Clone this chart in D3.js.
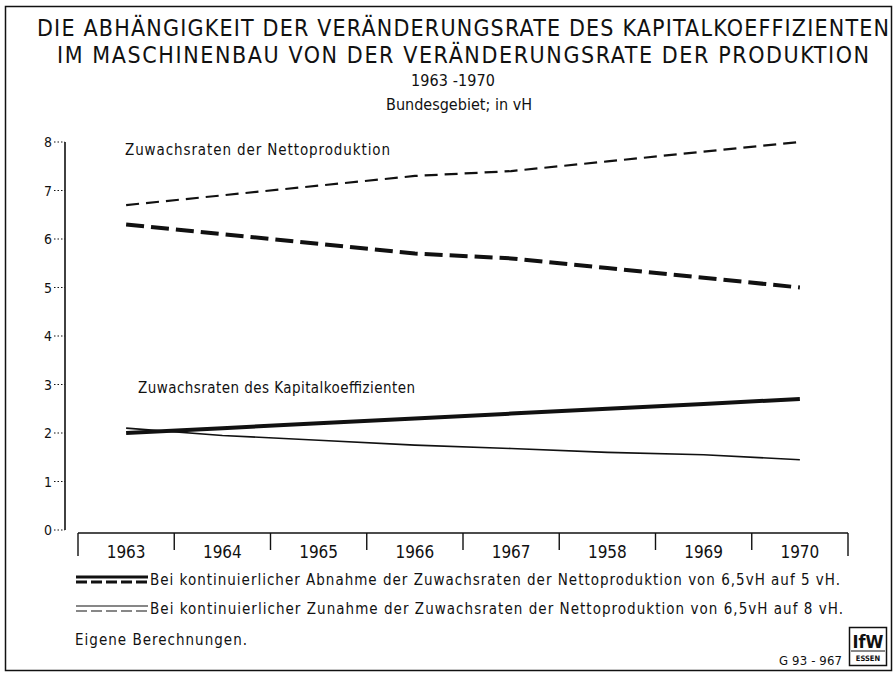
<!DOCTYPE html>
<html>
<head>
<meta charset="utf-8">
<script src="https://cdn.jsdelivr.net/npm/d3@7"></script>
<style>
  body { margin: 0; background: #fff; }
  svg { display: block; }
  text { font-family: "DejaVu Sans Condensed", "DejaVu Sans", sans-serif; fill: #111; }
</style>
</head>
<body>
<div id="chart"></div>
<script>
// Werte (vH)
const years = ["1963", "1964", "1965", "1966", "1967", "1968", "1969", "1970"];
const yearLabels = ["1963", "1964", "1965", "1966", "1967", "1958", "1969", "1970"];
const prodZunahme = [6.7, 6.9, 7.1, 7.3, 7.4, 7.6, 7.8, 8.0];
const prodAbnahme = [6.3, 6.1, 5.9, 5.7, 5.6, 5.4, 5.2, 5.0];
const kapAbnahme = [2.0, 2.1, 2.2, 2.3, 2.4, 2.5, 2.6, 2.7];
const kapZunahme = [2.1, 1.95, 1.85, 1.75, 1.68, 1.6, 1.55, 1.45];
const yTicks = [0, 1, 2, 3, 4, 5, 6, 7, 8];

const titleLines = [
  "DIE ABHÄNGIGKEIT DER VERÄNDERUNGSRATE DES KAPITALKOEFFIZIENTEN",
  "IM MASCHINENBAU VON DER VERÄNDERUNGSRATE DER PRODUKTION"
];
const legendTexts = [
  "Bei kontinuierlicher Abnahme der Zuwachsraten der Nettoproduktion von 6,5vH auf 5 vH.",
  "Bei kontinuierlicher Zunahme der Zuwachsraten der Nettoproduktion von 6,5vH auf 8 vH."
];

const width = 895, height = 676;

const svg = d3.select("#chart").append("svg")
  .attr("width", width)
  .attr("height", height);

// Text mit fester Breite (Vorlage ist gesperrt gesetzt)
function addText(g, x, yy, size, str, len, anchor) {
  const t = g.append("text")
    .attr("x", x).attr("y", yy)
    .attr("font-size", size)
    .attr("text-anchor", anchor || "start")
    .text(str);
  if (len) t.attr("textLength", len).attr("lengthAdjust", "spacing");
  return t;
}

// Rahmen
svg.append("rect")
  .attr("x", 5.5).attr("y", 6.5)
  .attr("width", 886).attr("height", 664)
  .attr("fill", "none").attr("stroke", "#111").attr("stroke-width", 1.5);

// Titel
addText(svg, 463, 36, 23, titleLines[0], 852, "middle");
addText(svg, 463, 63, 23, titleLines[1], 812, "middle");
addText(svg, 453, 86, 16, "1963 -1970", 84, "middle");
addText(svg, 459, 110, 16, "Bundesgebiet; in vH", 146, "middle");

// Skalen
const y = d3.scaleLinear().domain([0, 8]).range([530, 142]);
const x = d3.scaleBand().domain(years).range([78, 848]);
const cx = (d) => x(d) + x.bandwidth() / 2;

// y-Achse
const axisX = 65;
svg.append("line")
  .attr("x1", axisX).attr("x2", axisX)
  .attr("y1", y(8)).attr("y2", y(0))
  .attr("stroke", "#111").attr("stroke-width", 1.6);

const yt = svg.append("g").selectAll("g").data(yTicks).enter().append("g");
yt.append("line")
  .attr("x1", 54).attr("x2", axisX)
  .attr("y1", (d) => y(d)).attr("y2", (d) => y(d))
  .attr("stroke", "#111").attr("stroke-width", 1)
  .attr("stroke-dasharray", "1.5,2");
yt.append("text")
  .attr("x", 52).attr("y", (d) => y(d) + 5)
  .attr("text-anchor", "end").attr("font-size", 14)
  .text((d) => d);

// x-Achse (Klammerleiste)
const xEdges = years.map((d) => x(d)).concat([x.range()[1]]);
svg.append("line")
  .attr("x1", x.range()[0]).attr("x2", x.range()[1])
  .attr("y1", 533).attr("y2", 533)
  .attr("stroke", "#111").attr("stroke-width", 1.4);
svg.append("g").selectAll("line").data(xEdges).enter().append("line")
  .attr("x1", (d) => d).attr("x2", (d) => d)
  .attr("y1", 533).attr("y2", (d, i) => (i === 0 || i === xEdges.length - 1) ? 556 : 550)
  .attr("stroke", "#111").attr("stroke-width", 1.4);
svg.append("g").selectAll("text").data(years).enter().append("text")
  .attr("x", cx).attr("y", 558)
  .attr("text-anchor", "middle").attr("font-size", 17)
  .text((d, i) => yearLabels[i]);

// Linien
const line = d3.line().x((d, i) => cx(years[i])).y((d) => y(d));
const series = [
  { values: prodZunahme, w: 2.2, dash: "13,7" },
  { values: prodAbnahme, w: 4, dash: "18,7" },
  { values: kapZunahme, w: 1.6, dash: null },
  { values: kapAbnahme, w: 4, dash: null }
];
svg.append("g").selectAll("path").data(series).enter().append("path")
  .attr("d", (d) => line(d.values))
  .attr("fill", "none").attr("stroke", "#111")
  .attr("stroke-width", (d) => d.w)
  .attr("stroke-dasharray", (d) => d.dash);

addText(svg, 125, 155, 15, "Zuwachsraten der Nettoproduktion", 265);
addText(svg, 138, 393, 15, "Zuwachsraten des Kapitalkoeffizienten", 277);

// Legende
const lg = svg.append("g");
[0, 1].forEach((i) => {
  const ly = 580 + i * 29;
  lg.append("line").attr("x1", 76).attr("x2", 148)
    .attr("y1", ly - 3).attr("y2", ly - 3)
    .attr("stroke", "#111").attr("stroke-width", i === 0 ? 3 : 1.2);
  lg.append("line").attr("x1", 76).attr("x2", 148)
    .attr("y1", ly + 2).attr("y2", ly + 2)
    .attr("stroke", "#111").attr("stroke-width", i === 0 ? 3 : 1.2)
    .attr("stroke-dasharray", "11,4");
  addText(lg, 150, ly + 5, 15, legendTexts[i], i === 0 ? 690 : 693);
});
addText(svg, 75, 645, 15, "Eigene Berechnungen.", 172);

// Quelle / Logo
addText(svg, 779, 665, 13, "G 93 - 967", 63);
svg.append("rect").attr("x", 849.5).attr("y", 627.5)
  .attr("width", 37).attr("height", 38)
  .attr("fill", "none").attr("stroke", "#111").attr("stroke-width", 1.5);
svg.append("text").attr("x", 868).attr("y", 648).attr("text-anchor", "middle")
  .attr("font-size", 18).attr("font-weight", "bold").text("IfW");
svg.append("line").attr("x1", 851).attr("x2", 885).attr("y1", 651).attr("y2", 651)
  .attr("stroke", "#111").attr("stroke-width", 1);
svg.append("text").attr("x", 868).attr("y", 661).attr("text-anchor", "middle")
  .attr("font-size", 7.5).attr("font-weight", "bold").text("ESSEN");
</script>
</body>
</html>
